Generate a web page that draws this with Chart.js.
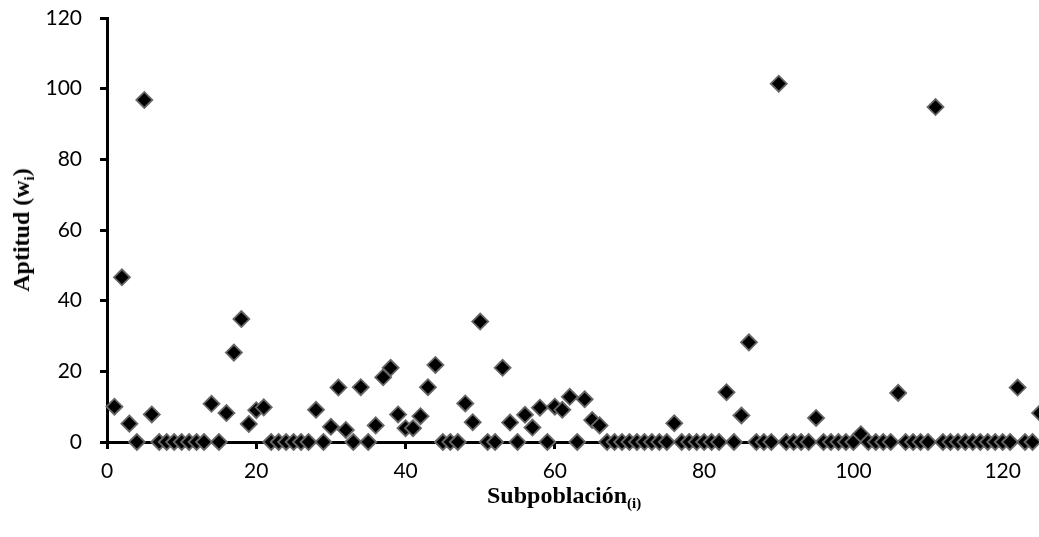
<!DOCTYPE html>
<html>
<head>
<meta charset="utf-8">
<script src="https://cdn.jsdelivr.net/npm/chart.js@4"></script>
<style>
  html, body { margin: 0; padding: 0; background: #fff; overflow: hidden; }
  #wrap { position: relative; width: 1040px; height: 537px; }
  #c { display: block; }
  .ttl { position: absolute; font-family: "Liberation Serif", "Times New Roman", serif; font-weight: bold; font-size: 24px; color: #000; white-space: nowrap; line-height: 1; }
  .ttl sub { font-size: 15px; vertical-align: baseline; position: relative; top: 5px; }
  #ytitle { left: 21px; top: 230px; transform: translate(-50%, -50%) rotate(-90deg); }
  #xtitle { left: 487px; top: 495px; transform: translate(0, -50%); }
</style>
</head>
<body>
<div id="wrap">
  <canvas id="c" width="1040" height="537"></canvas>
  <div class="ttl" id="ytitle">Aptitud (w<sub>i</sub>)</div>
  <div class="ttl" id="xtitle">Subpoblación<sub>(i)</sub></div>
</div>
<script>
const subpoblacion = [];
for (let i = 1; i <= 125; i++) subpoblacion.push(i);

const aptitud = [
  10.0, 46.6, 5.2, 0, 96.8, 7.8, 0, 0, 0, 0,
  0, 0, 0, 10.8, 0, 8.2, 25.3, 34.8, 5.1, 9.0,
  9.8, 0, 0, 0, 0, 0, 0, 9.1, 0, 4.3,
  15.4, 3.4, 0, 15.5, 0, 4.7, 18.3, 21.0, 7.8, 3.9,
  3.9, 7.3, 15.5, 21.8, 0, 0, 0, 10.9, 5.6, 34.1,
  0, 0, 21.0, 5.5, 0, 7.7, 4.1, 9.7, 0, 10.0,
  9.1, 12.8, 0, 12.1, 6.2, 4.7, 0, 0, 0, 0,
  0, 0, 0, 0, 0, 5.3, 0, 0, 0, 0,
  0, 0, 14.1, 0, 7.5, 28.2, 0, 0, 0, 101.4,
  0, 0, 0, 0, 6.8, 0, 0, 0, 0, 0,
  2.2, 0, 0, 0, 0, 13.9, 0, 0, 0, 0,
  94.8, 0, 0, 0, 0, 0, 0, 0, 0, 0,
  0, 15.4, 0, 0, 8.2
];

const xTicks = [0, 20, 40, 60, 80, 100, 120];
const yTicks = [0, 20, 40, 60, 80, 100, 120];
const xRange = [0, 125];
const yRange = [0, 120];

const points = subpoblacion.map((x, i) => ({ x: x, y: aptitud[i] }));
const tickFont = { family: "Lato, 'Liberation Sans', sans-serif", size: 21 };

function zeroPad(s) { s.paddingLeft = 0; s.paddingRight = 0; s.paddingTop = 0; s.paddingBottom = 0; }

new Chart(document.getElementById('c'), {
  type: 'scatter',
  data: {
    datasets: [{
      label: 'Aptitud',
      data: points,
      pointStyle: 'rectRot',
      pointRadius: 8,
      pointHoverRadius: 8,
      backgroundColor: '#000000',
      borderColor: '#666666',
      borderWidth: 1.8,
      clip: false
    }]
  },
  options: {
    responsive: false,
    animation: false,
    events: [],
    layout: { autoPadding: false, padding: { top: 18, right: 0, bottom: 0, left: 0 } },
    plugins: { legend: { display: false }, tooltip: { enabled: false } },
    scales: {
      x: {
        type: 'linear',
        bounds: 'data',
        min: xRange[0],
        max: xRange[1],
        afterBuildTicks: (s) => { s.ticks = xTicks.map(v => ({ value: v })); s.min = xRange[0]; s.max = xRange[1]; },
        afterFit: (s) => { s.height = 95; zeroPad(s); },
        ticks: { font: tickFont, color: '#000', padding: 10, includeBounds: false, maxRotation: 0, autoSkip: false },
        grid: { drawOnChartArea: false, drawTicks: true, tickLength: 7, tickWidth: 3, tickColor: '#000' },
        border: { display: true, color: '#000', width: 3 }
      },
      y: {
        type: 'linear',
        bounds: 'data',
        min: yRange[0],
        max: yRange[1],
        afterBuildTicks: (s) => { s.ticks = yTicks.map(v => ({ value: v })); s.min = yRange[0]; s.max = yRange[1]; },
        afterFit: (s) => { s.width = 107; zeroPad(s); },
        ticks: { font: tickFont, color: '#000', padding: 18, autoSkip: false },
        grid: { drawOnChartArea: false, drawTicks: true, tickLength: 7, tickWidth: 3, tickColor: '#000' },
        border: { display: true, color: '#000', width: 3 }
      }
    }
  }
});
</script>
</body>
</html>
